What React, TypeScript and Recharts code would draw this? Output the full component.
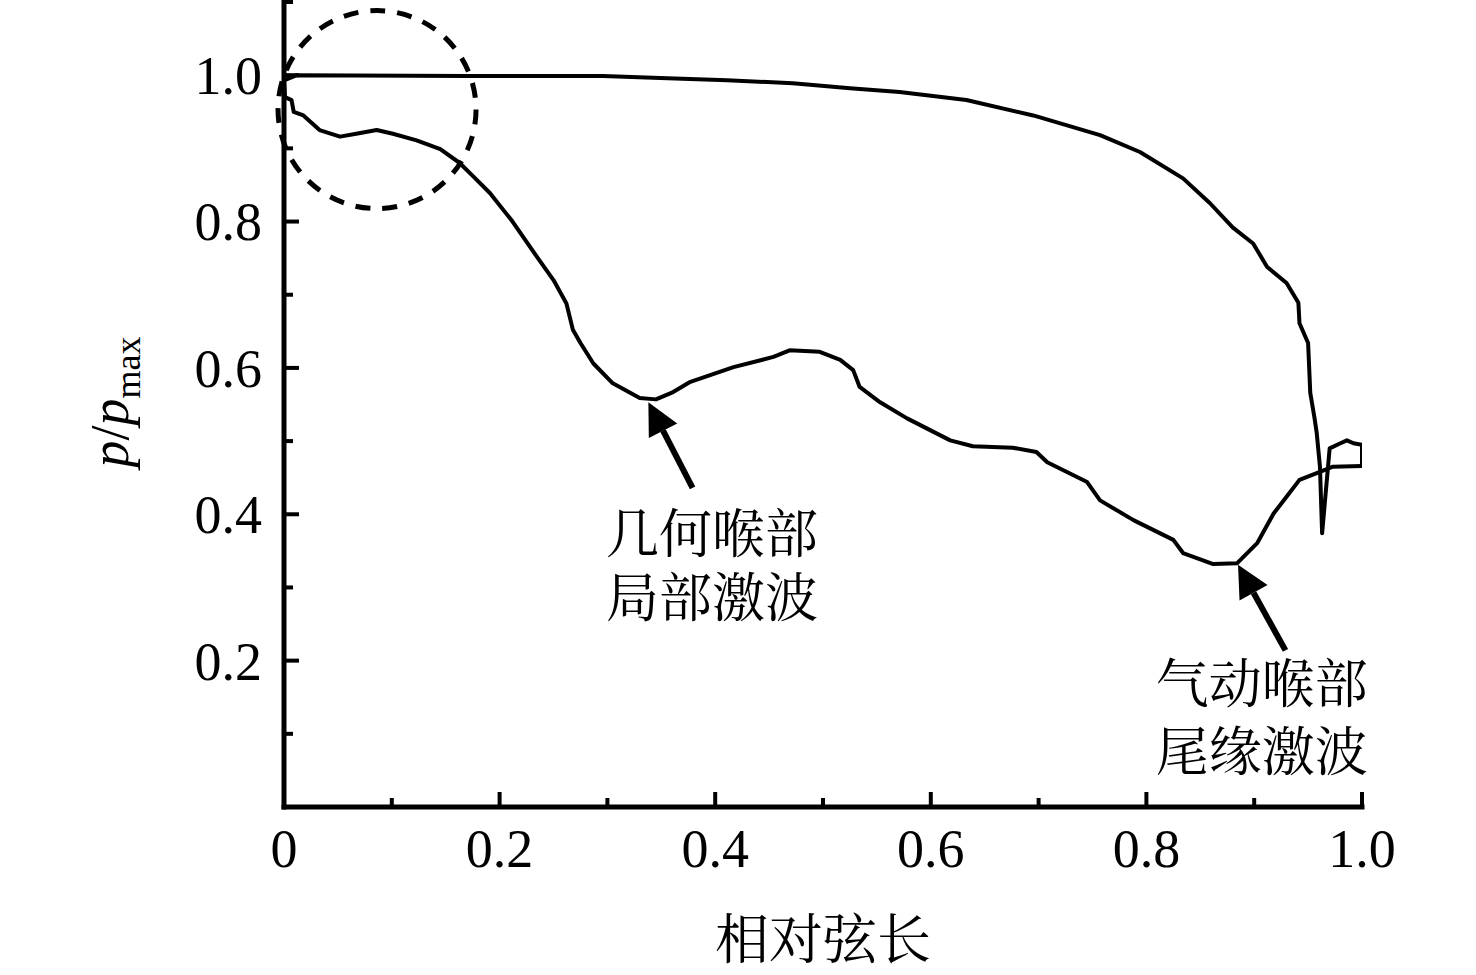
import React from 'react';
import {
  LineChart,
  Line,
  XAxis,
  YAxis,
  ReferenceDot,
  ReferenceLine,
} from 'recharts';

interface Pt {
  x: number;
  y: number;
}

// pressure side (top curve)
const upperX = [0, 0.012, 0.17, 0.296, 0.349, 0.411, 0.472, 0.525, 0.571, 0.633, 0.695, 0.757, 0.794, 0.834, 0.859, 0.88, 0.899, 0.912, 0.93, 0.941, 0.942, 0.95, 0.952, 0.956, 0.958, 0.961, 0.963, 0.97, 0.98, 0.986, 0.992, 1.0, 1.0];
const upperY = [0.993, 1.0, 0.999, 0.999, 0.996, 0.993, 0.989, 0.982, 0.977, 0.966, 0.945, 0.918, 0.895, 0.859, 0.825, 0.792, 0.77, 0.738, 0.716, 0.689, 0.661, 0.634, 0.566, 0.531, 0.511, 0.465, 0.374, 0.49, 0.497, 0.501, 0.497, 0.495, 0.466];

// suction side (lower curve)
const lowerX = [0, 0.001, 0.007, 0.009, 0.018, 0.033, 0.052, 0.067, 0.086, 0.101, 0.123, 0.145, 0.163, 0.176, 0.191, 0.212, 0.235, 0.25, 0.262, 0.268, 0.275, 0.287, 0.305, 0.33, 0.345, 0.361, 0.377, 0.417, 0.454, 0.469, 0.497, 0.516, 0.528, 0.534, 0.553, 0.578, 0.618, 0.639, 0.676, 0.698, 0.708, 0.745, 0.757, 0.788, 0.825, 0.834, 0.862, 0.884, 0.903, 0.918, 0.93, 0.942, 0.961, 0.973, 1.0];
const lowerY = [0.99, 0.97, 0.966, 0.95, 0.945, 0.925, 0.916, 0.92, 0.925, 0.92, 0.911, 0.899, 0.88, 0.861, 0.839, 0.8, 0.751, 0.72, 0.688, 0.652, 0.634, 0.606, 0.579, 0.559, 0.557, 0.567, 0.581, 0.601, 0.615, 0.624, 0.622, 0.611, 0.597, 0.574, 0.553, 0.531, 0.501, 0.493, 0.491, 0.485, 0.471, 0.444, 0.419, 0.392, 0.365, 0.347, 0.332, 0.333, 0.361, 0.401, 0.424, 0.447, 0.458, 0.465, 0.466];

const xMajor = [0, 0.2, 0.4, 0.6, 0.8, 1.0];
const xMinor = [0.1, 0.3, 0.5, 0.7, 0.9];
const xLabels = ['0', '0.2', '0.4', '0.6', '0.8', '1.0'];
const yMajor = [0.2, 0.4, 0.6, 0.8, 1.0];
const yMinor = [0.1, 0.3, 0.5, 0.7, 0.9, 1.1];
const yLabels = ['0.2', '0.4', '0.6', '0.8', '1.0'];

const geoNote = ['几何喉部', '局部激波'];
const aeroNote = ['气动喉部', '尾缘激波'];

const toPoints = (xs: number[], ys: number[]): Pt[] => xs.map((x, i) => ({ x, y: ys[i] }));
const upper = toPoints(upperX, upperY);
const lower = toPoints(lowerX, lowerY);

const SERIF = '"Liberation Serif", "Times New Roman", serif';
const CJK = '"Noto Serif CJK SC", "Noto Sans CJK SC", sans-serif';

const XTick = (props: any) => {
  const { x, y, payload } = props;
  const i = xMajor.indexOf(payload.value);
  const len = i >= 0 ? 15 : 9;
  return (
    <g>
      <line x1={x} y1={y} x2={x} y2={y - len} stroke="#000" strokeWidth={4} />
      {i >= 0 && (
        <text x={x} y={y + 60} textAnchor="middle" fontFamily={SERIF} fontSize={54} fill="#000">
          {xLabels[i]}
        </text>
      )}
    </g>
  );
};

const YTick = (props: any) => {
  const { x, y, payload } = props;
  const i = yMajor.indexOf(payload.value);
  const len = i >= 0 ? 15 : 9;
  return (
    <g>
      <line x1={x} y1={y} x2={x + len} y2={y} stroke="#000" strokeWidth={4} />
      {i >= 0 && (
        <text x={x - 22} y={y} dy="0.35em" textAnchor="end" fontFamily={SERIF} fontSize={54} fill="#000">
          {yLabels[i]}
        </text>
      )}
    </g>
  );
};

const Arrow = (props: any) => {
  const { x1, y1, x2, y2 } = props;
  const a = Math.atan2(y2 - y1, x2 - x1);
  const len = 32;
  const hw = 16;
  const bx = x2 - len * Math.cos(a);
  const by = y2 - len * Math.sin(a);
  const px = -Math.sin(a) * hw;
  const py = Math.cos(a) * hw;
  return (
    <g>
      <line x1={x1} y1={y1} x2={bx} y2={by} stroke="#000" strokeWidth={6} />
      <polygon points={`${x2},${y2} ${bx + px},${by + py} ${bx - px},${by - py}`} fill="#000" />
    </g>
  );
};

// two-line note drawn as one text element, centred on the anchor point
const note = (lines: string[], gap: number) => (props: any) => {
  const { cx, cy } = props;
  return (
    <text x={cx} y={cy - gap / 2} textAnchor="middle" fontFamily={CJK} fontSize={53} fill="#000">
      <tspan x={cx} dy="0.36em">{lines[0]}</tspan>
      <tspan x={cx} dy={gap}>{lines[1]}</tspan>
    </text>
  );
};

export default function App() {
  return (
    <div style={{ position: 'absolute', left: 0, top: 0, width: 1476, height: 975, background: '#fff' }}>
      <LineChart width={1476} height={975} margin={{ top: 2, right: 114, bottom: 0, left: 0 }}>
        <XAxis
          type="number"
          dataKey="x"
          domain={[0, 1]}
          ticks={[...xMajor, ...xMinor]}
          interval={0}
          height={168}
          tickSize={0}
          tickMargin={0}
          tick={<XTick />}
          axisLine={{ stroke: '#000', strokeWidth: 5, strokeLinecap: 'square' }}
          allowDataOverflow
          label={{
            content: (p: any) => {
              const vb = p.viewBox;
              return (
                <text x={vb.x + vb.width / 2} y={vb.y + 133} dy="0.36em" textAnchor="middle" fontFamily={CJK} fontSize={54} fill="#000">
                  相对弦长
                </text>
              );
            },
          }}
        />
        <YAxis
          type="number"
          domain={[0, 1.1]}
          ticks={[...yMajor, ...yMinor]}
          interval={0}
          width={284}
          tickSize={0}
          tickMargin={0}
          tick={<YTick />}
          axisLine={{ stroke: '#000', strokeWidth: 5, strokeLinecap: 'square' }}
          allowDataOverflow
          label={{
            content: () => (
              <text transform="translate(128,402) rotate(-90)" textAnchor="middle" fontFamily={SERIF} fontSize={54} fill="#000">
                <tspan fontStyle="italic">p</tspan>
                <tspan>/</tspan>
                <tspan fontStyle="italic">p</tspan>
                <tspan fontSize={36} dy={12}>max</tspan>
              </text>
            ),
          }}
        />
        <Line
          data={upper}
          dataKey="y"
          type="linear"
          dot={false}
          stroke="#000"
          strokeWidth={4}
          strokeLinejoin="round"
          isAnimationActive={false}
        />
        <Line
          data={lower}
          dataKey="y"
          type="linear"
          dot={false}
          stroke="#000"
          strokeWidth={4}
          strokeLinejoin="round"
          isAnimationActive={false}
        />
        <ReferenceDot
          x={0.0863}
          y={0.953}
          r={99}
          fill="none"
          stroke="#000"
          strokeWidth={5}
          strokeDasharray="15 12"
          ifOverflow="visible"
        />
        <ReferenceLine segment={[{ x: 0.379, y: 0.436 }, { x: 0.338, y: 0.553 }]} shape={Arrow} ifOverflow="visible" />
        <ReferenceLine segment={[{ x: 0.929, y: 0.214 }, { x: 0.885, y: 0.331 }]} shape={Arrow} ifOverflow="visible" />
        <ReferenceDot x={0.397} y={0.329} r={0} shape={note(geoNote, 64)} ifOverflow="visible" />
        <ReferenceDot x={0.907} y={0.1216} r={0} shape={note(aeroNote, 68)} ifOverflow="visible" />
      </LineChart>
    </div>
  );
}
